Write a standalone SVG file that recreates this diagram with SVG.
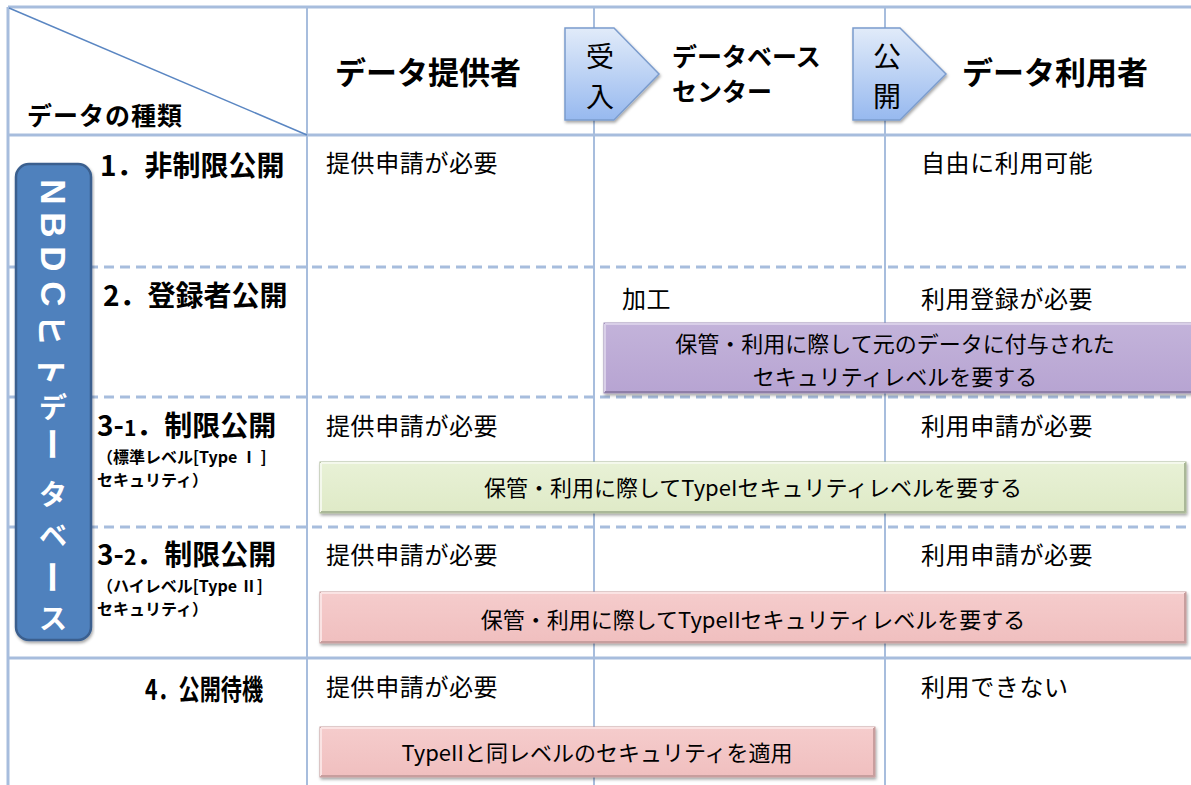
<svg xmlns="http://www.w3.org/2000/svg" width="1191" height="785" viewBox="0 0 1191 785">
<style>
.jp{font-family:"Noto Sans CJK JP","Noto Sans",sans-serif;fill:#000}
.b{font-weight:bold}
.cell{font-size:24px;letter-spacing:0.6px}
.hd{font-size:31px;font-weight:bold}
.row{font-size:28px;font-weight:bold}
.sub{font-size:16px;font-weight:bold}
.box{font-size:22px}
.grid{stroke:#a7bddd;fill:none}
.bar{font-family:"Noto Sans CJK JP","Noto Sans",sans-serif;font-size:28px;font-weight:bold;fill:#fff}
.lat{font-family:"Liberation Sans","Noto Sans",sans-serif;font-size:35px}
</style>
<defs>
<linearGradient id="gArrow" x1="0" y1="0" x2="0" y2="1">
<stop offset="0" stop-color="#e1ebf9"/><stop offset="1" stop-color="#97b9ef"/>
</linearGradient>
<linearGradient id="gPurple" x1="0" y1="0" x2="0" y2="1">
<stop offset="0" stop-color="#c3b3da"/><stop offset="1" stop-color="#b7a4d2"/>
</linearGradient>
<linearGradient id="gGreen" x1="0" y1="0" x2="0" y2="1">
<stop offset="0" stop-color="#e8f1d6"/><stop offset="1" stop-color="#dfeac7"/>
</linearGradient>
<linearGradient id="gPink" x1="0" y1="0" x2="0" y2="1">
<stop offset="0" stop-color="#f5cccc"/><stop offset="1" stop-color="#f0bfbf"/>
</linearGradient>
<filter id="sh" x="-5%" y="-20%" width="110%" height="150%">
<feDropShadow dx="1" dy="2" stdDeviation="1.5" flood-color="#000" flood-opacity="0.35"/>
</filter>
</defs>
<rect width="1191" height="785" fill="#fff"/>

<g id="grid">
<line class="grid" x1="8" y1="7" x2="1191" y2="7" stroke-width="3"/>
<line class="grid" x1="8" y1="7" x2="8" y2="785" stroke-width="3"/>
<line class="grid" x1="307" y1="7" x2="307" y2="785" stroke-width="2"/>
<line class="grid" x1="594" y1="7" x2="594" y2="785" stroke-width="2"/>
<line class="grid" x1="885" y1="7" x2="885" y2="785" stroke-width="2"/>
<line class="grid" x1="8" y1="135" x2="1191" y2="135" stroke-width="3"/>
<line class="grid" x1="8" y1="267" x2="1191" y2="267" stroke-width="3" stroke-dasharray="10 6"/>
<line class="grid" x1="8" y1="397" x2="1191" y2="397" stroke-width="3" stroke-dasharray="10 6"/>
<line class="grid" x1="8" y1="527" x2="1191" y2="527" stroke-width="3" stroke-dasharray="10 6"/>
<line class="grid" x1="8" y1="658" x2="1191" y2="658" stroke-width="3"/>
<line x1="9" y1="8" x2="307" y2="135" stroke="#5a86c2" stroke-width="1.5"/>
</g>

<g id="header">
<text class="jp b" x="27" y="125" font-size="25" letter-spacing="1">データの種類</text>
<text class="jp hd" x="335" y="84">データ提供者</text>
<text class="jp b" x="672" y="66" font-size="25">データベース</text>
<text class="jp b" x="672" y="101" font-size="25">センター</text>
<text class="jp hd" x="962" y="84">データ利用者</text>
</g>

<g id="arrow-ukeire">
<polygon points="565,28 614,28 659,74 614,120 565,120" fill="url(#gArrow)" stroke="#7b9ccd" stroke-width="1.5" filter="url(#sh)"/>
<text class="jp" x="600" y="67" font-size="28" text-anchor="middle">受</text>
<text class="jp" x="600" y="107" font-size="28" text-anchor="middle">入</text>
</g>
<g id="arrow-kokai">
<polygon points="853,28 900,28 946,74 900,120 853,120" fill="url(#gArrow)" stroke="#7b9ccd" stroke-width="1.5" filter="url(#sh)"/>
<text class="jp" x="887" y="67" font-size="28" text-anchor="middle">公</text>
<text class="jp" x="887" y="107" font-size="28" text-anchor="middle">開</text>
</g>

<g id="nbdc-bar">
<rect x="16" y="164" width="75" height="476" rx="13" fill="#4f81bd" stroke="#3a5f8e" stroke-width="2.5" filter="url(#sh)"/>
<g class="bar" text-anchor="middle" dominant-baseline="central">
<text class="lat" transform="translate(53,192) rotate(90)">N</text>
<text class="lat" transform="translate(53,225) rotate(90)">B</text>
<text class="lat" transform="translate(53,259) rotate(90)">D</text>
<text class="lat" transform="translate(53,294) rotate(90)">C</text>
<text transform="translate(53,330) rotate(90)" font-size="31">ヒ</text>
<text transform="translate(53,370) rotate(90)" font-size="31">ト</text>
<text transform="translate(53,406)">デ</text>
<text transform="translate(53,444) rotate(90)" font-size="34">ー</text>
<text transform="translate(53,493)">タ</text>
<text transform="translate(53,534)">ベ</text>
<text transform="translate(53,577) rotate(90)" font-size="34">ー</text>
<text transform="translate(53,617)">ス</text>
</g>
</g>

<g id="row1">
<text class="jp row" x="100" y="176">1．非制限公開</text>
<text class="jp cell" x="326" y="172">提供申請が必要</text>
<text class="jp cell" x="921" y="172">自由に利用可能</text>
</g>

<g id="row2">
<text class="jp row" x="103" y="306">2．登録者公開</text>
<text class="jp cell" x="622" y="308">加工</text>
<text class="jp cell" x="921" y="308">利用登録が必要</text>
</g>
<g id="box-purple">
<rect x="604" y="323" width="590" height="70" fill="url(#gPurple)" stroke="#9c8cb5" stroke-width="1" filter="url(#sh)"/>
<path d="M605,324 H1193 M605,324 V392" stroke="#d9cfe8" stroke-width="2" fill="none"/>
<path d="M605,392 H1193" stroke="#8e7ea8" stroke-width="2" fill="none"/>
<text class="jp box" x="895" y="352" text-anchor="middle">保管・利用に際して元のデータに付与された</text>
<text class="jp box" x="895" y="385" text-anchor="middle">セキュリティレベルを要する</text>
</g>

<g id="row3-1">
<text class="jp row" x="97" y="436">3-<tspan font-size="21">1</tspan>．制限公開</text>
<text class="jp sub" x="97" y="463" font-size="17">（標準レベル[Type Ⅰ ]</text>
<text class="jp sub" x="97" y="486">セキュリティ）</text>
<text class="jp cell" x="326" y="435">提供申請が必要</text>
<text class="jp cell" x="921" y="435">利用申請が必要</text>
</g>
<g id="box-green">
<rect x="320" y="462" width="866" height="51" fill="url(#gGreen)" stroke="#a9b795" stroke-width="1" filter="url(#sh)"/>
<path d="M321,463 H1185 M321,463 V512" stroke="#f4f8ec" stroke-width="2" fill="none"/>
<path d="M321,512 H1185 M1185,463 V512" stroke="#aab898" stroke-width="2" fill="none"/>
<text class="jp box" x="753" y="496" text-anchor="middle">保管・利用に際してTypeIセキュリティレベルを要する</text>
</g>

<g id="row3-2">
<text class="jp row" x="97" y="565">3-<tspan font-size="21">2</tspan>．制限公開</text>
<text class="jp sub" x="97" y="592" font-size="17">（ハイレベル[Type Ⅱ]</text>
<text class="jp sub" x="97" y="615">セキュリティ）</text>
<text class="jp cell" x="326" y="564">提供申請が必要</text>
<text class="jp cell" x="921" y="564">利用申請が必要</text>
</g>
<g id="box-pink1">
<rect x="320" y="592" width="866" height="51" fill="url(#gPink)" stroke="#c39c9c" stroke-width="1" filter="url(#sh)"/>
<path d="M321,593 H1185 M321,593 V642" stroke="#fae3e3" stroke-width="2" fill="none"/>
<path d="M321,642 H1185 M1185,593 V642" stroke="#c89e9e" stroke-width="2" fill="none"/>
<text class="jp box" x="753" y="628" text-anchor="middle">保管・利用に際してTypeIIセキュリティレベルを要する</text>
</g>

<g id="row4">
<text class="jp row" x="145" y="700" font-size="30" textLength="118" lengthAdjust="spacingAndGlyphs">4．公開待機</text>
<text class="jp cell" x="326" y="696">提供申請が必要</text>
<text class="jp cell" x="921" y="696">利用できない</text>
</g>
<g id="box-pink2">
<rect x="320" y="727" width="555" height="50" fill="url(#gPink)" stroke="#c39c9c" stroke-width="1" filter="url(#sh)"/>
<path d="M321,728 H874 M321,728 V776" stroke="#fae3e3" stroke-width="2" fill="none"/>
<path d="M321,776 H874 M874,728 V776" stroke="#c89e9e" stroke-width="2" fill="none"/>
<text class="jp box" x="597" y="761" text-anchor="middle">TypeIIと同レベルのセキュリティを適用</text>
</g>
</svg>
